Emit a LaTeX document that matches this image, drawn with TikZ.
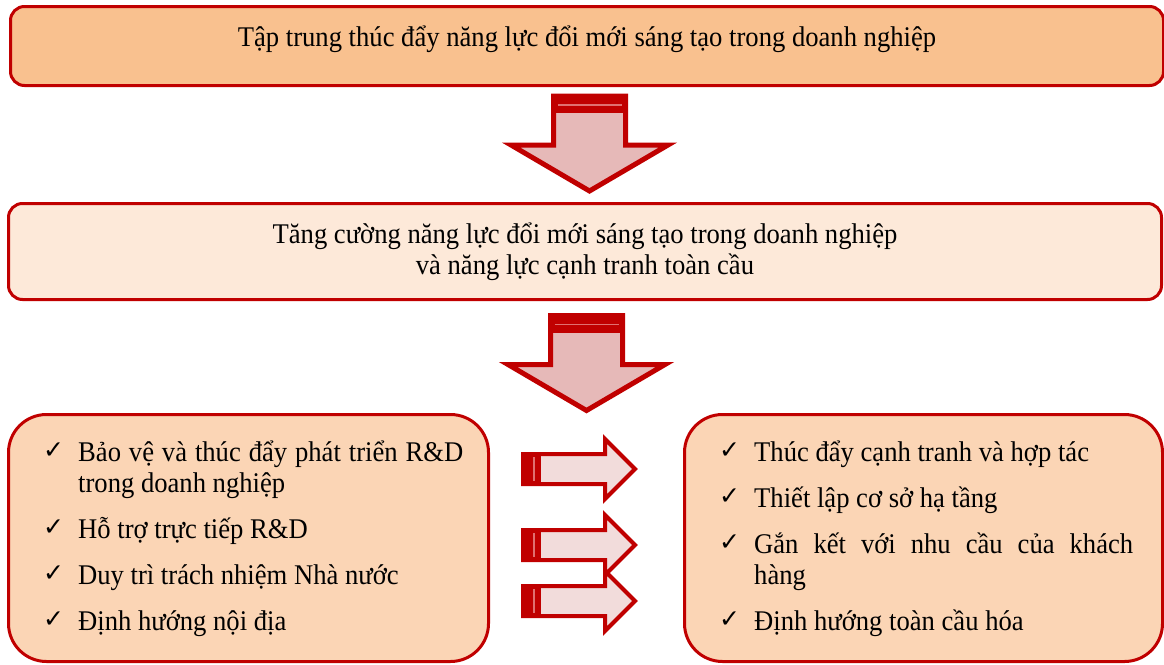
\documentclass[tikz,border=0pt]{standalone}
\usepackage{fontspec}
\setmainfont{Liberation Serif}[FakeStretch=0.934]
\newfontfamily\tickfont{DejaVu Sans}
\definecolor{boxred}{HTML}{C00000}
\definecolor{stripered}{HTML}{E07070}
\definecolor{topfill}{HTML}{F9C18F}
\definecolor{midfill}{HTML}{FDE9D9}
\definecolor{listfill}{HTML}{FBD5B5}
\definecolor{downfill}{HTML}{E6B9B8}
\definecolor{rightfill}{HTML}{F2DCDB}
\newcommand{\tickitem}[1]{\par\hangindent=35pt\hangafter=1\noindent\makebox[35pt][l]{\raisebox{3pt}{\tickfont\bfseries\fontsize{25}{25}\selectfont ✓}}#1\par}
\begin{document}
\begin{tikzpicture}[x=1pt, y=-1pt, every node/.style = {font=\fontsize{28.5}{31}\selectfont}]
	\tikzstyle{panel} = [draw=boxred, line width=3pt, rounded corners=14pt, inner sep=0pt]
	\tikzstyle{topbox} = [panel, fill=topfill, minimum width=1153pt, minimum height=79pt, text height=9pt, text depth=9pt]
	\tikzstyle{midbox} = [panel, fill=midfill, minimum width=1153pt, minimum height=96pt, align=center]
	\tikzstyle{listbox} = [panel, fill=listfill, rounded corners=38pt, minimum height=247pt]
	\tikzstyle{ticklist} = [inner sep=0pt, anchor=north west, align=justify]
	\tikzstyle{downarrow} = [draw=boxred, fill=downfill, line width=5pt]
	\tikzstyle{rightarrow} = [draw=boxred, fill=rightfill, line width=4pt]
	\tikzstyle{stripe} = [fill=boxred]
	\tikzstyle{stripeline} = [draw=stripered, line width=1.5pt]
	\useasboundingbox (0,0) rectangle (1164,664);
	\node[topbox] (focus) at (587,46) {Tập trung thúc đẩy năng lực đổi mới sáng tạo trong doanh nghiệp};
	\node[midbox] (boost) at (585,251.5) {Tăng cường năng lực đổi mới sáng tạo trong doanh nghiệp\\ và năng lực cạnh tranh toàn cầu};
	\node[listbox, minimum width=480pt] (domestic) at (248.5,538) {};
	\node[listbox, minimum width=478pt] (global) at (923.5,538) {};
	\node[ticklist, text width=420pt] (domesticlist) at (43,415) {\setlength{\parskip}{15pt}%
		\tickitem{\rule{0pt}{26pt}Bảo vệ và thúc đẩy phát triển R\&D trong doanh nghiệp}
		\tickitem{Hỗ trợ trực tiếp R\&D}
		\tickitem{Duy trì trách nhiệm Nhà nước}
		\tickitem{Định hướng nội địa}};
	\node[ticklist, text width=414pt] (globallist) at (719,415) {\setlength{\parskip}{15pt}%
		\tickitem{\rule{0pt}{26pt}Thúc đẩy cạnh tranh và hợp tác}
		\tickitem{Thiết lập cơ sở hạ tầng}
		\tickitem{Gắn kết với nhu cầu của khách\linebreak hàng}
		\tickitem{Định hướng toàn cầu hóa}};
	\foreach \ax/\ay in {589.5/96, 586.5/315.5} {
		\begin{scope}[shift={(\ax,\ay)}]
			\draw[downarrow] (-36,0) -- (36,0) -- (36,49) -- (78.5,49) -- (0,95) -- (-78.5,49) -- (-36,49) -- cycle;
			\fill[stripe] (-36,0) rectangle (36,17);
			\draw[stripeline] (-32,9) -- (32,9);
		\end{scope}
	}
	\foreach \ay in {469, 545, 601} {
		\begin{scope}[shift={(523,\ay)}]
			\draw[rightarrow] (0,-15) -- (82,-15) -- (82,-30) -- (112,0) -- (82,30) -- (82,15) -- (0,15) -- cycle;
			\fill[stripe] (0,-15) rectangle (18,15);
			\draw[stripeline] (11,-12) -- (11,12);
		\end{scope}
	}
\end{tikzpicture}
\end{document}
